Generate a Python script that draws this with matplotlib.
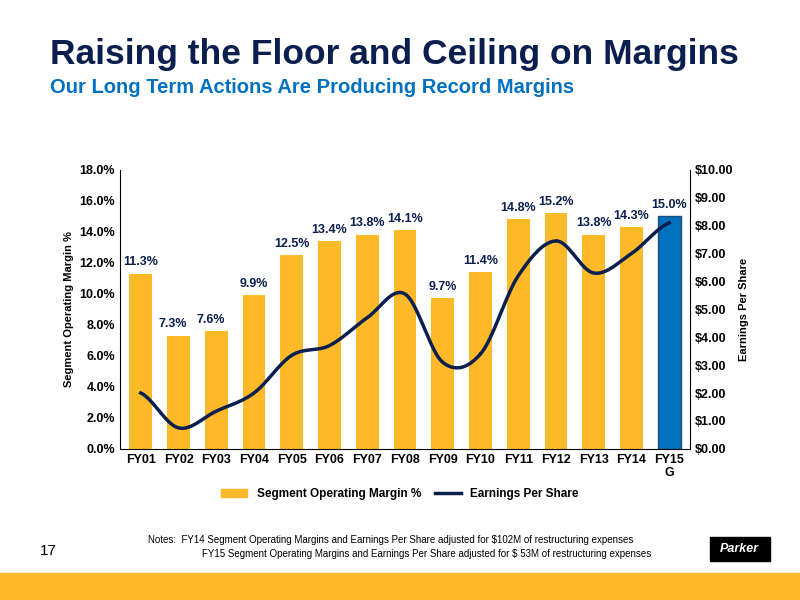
import numpy as np
import matplotlib.pyplot as plt
from matplotlib.patches import Rectangle

plt.rcParams['font.family'] = ['Liberation Sans', 'DejaVu Sans']

years = ['FY01', 'FY02', 'FY03', 'FY04', 'FY05', 'FY06', 'FY07', 'FY08',
         'FY09', 'FY10', 'FY11', 'FY12', 'FY13', 'FY14', 'FY15\nG']
margin = [11.3, 7.3, 7.6, 9.9, 12.5, 13.4, 13.8, 14.1, 9.7, 11.4, 14.8, 15.2, 13.8, 14.3, 15.0]
eps = [2.00, 0.75, 1.35, 2.00, 3.35, 3.70, 4.70, 5.55, 3.10, 3.40, 6.20, 7.45, 6.30, 7.00, 8.10]

gold = '#FDB927'
blue = '#0070C0'
navy = '#0A1F4E'

fig = plt.figure(figsize=(8, 6), dpi=100)
fig.text(0.062, 0.893, 'Raising the Floor and Ceiling on Margins', fontsize=25.5,
         fontweight='bold', color=navy)
fig.text(0.062, 0.845, 'Our Long Term Actions Are Producing Record Margins', fontsize=14.5,
         fontweight='bold', color=blue)

ax = fig.add_axes([0.15, 0.252, 0.7125, 0.465])
x = np.arange(len(years))
colors = [gold] * (len(years) - 1) + [blue]
ax.bar(x, margin, width=0.6, color=colors, edgecolor=['none'] * 14 + ['#1F4E79'])
for i, v in enumerate(margin):
    ax.text(i - 0.15 if i in (1, 2) else i, v + 0.35, f'{v:.1f}%', ha='center', va='bottom',
            fontsize=9, fontweight='bold', color=navy)
ax.set_ylim(0, 18)
ax.set_yticks(np.arange(0, 18.1, 2))
ax.set_yticklabels([f'{t:.1f}%' for t in np.arange(0, 18.1, 2)], fontsize=9, fontweight='bold')
ax.set_xlim(-0.55, len(years) - 0.45)
ax.set_xticks(x)
ax.set_xticklabels(years, fontsize=9, fontweight='bold')
ax.set_ylabel('Segment Operating Margin %', fontsize=8, fontweight='bold')
for s in ['top', 'right']:
    ax.spines[s].set_visible(False)
ax.tick_params(length=0)

ax2 = ax.twinx()
# smooth curve through the points (Catmull-Rom)
p = np.array(eps)
pts = np.concatenate([[p[0]], p, [p[-1]]])
xs, ys = [], []
for i in range(len(p) - 1):
    t = np.linspace(0, 1, 20)
    p0, p1, p2, p3 = pts[i], pts[i + 1], pts[i + 2], pts[i + 3]
    yv = 0.5 * (2 * p1 + (-p0 + p2) * t + (2 * p0 - 5 * p1 + 4 * p2 - p3) * t ** 2
                + (-p0 + 3 * p1 - 3 * p2 + p3) * t ** 3)
    xs.extend(i + t)
    ys.extend(yv)
ax2.plot(xs, ys, color=navy, lw=2.5)
ax2.set_ylim(0, 10)
ax2.set_yticks(np.arange(0, 10.1, 1))
ax2.set_yticklabels([f'${t:.2f}' for t in np.arange(0, 10.1, 1)], fontsize=9, fontweight='bold')
ax2.set_ylabel('Earnings Per Share', fontsize=8, fontweight='bold')
ax2.tick_params(length=0)
for s in ['top', 'left', 'bottom']:
    ax2.spines[s].set_visible(False)

h1 = Rectangle((0, 0), 1, 1, color=gold)
h2 = plt.Line2D([0], [0], color=navy, lw=2.5)
fig.legend([h1, h2], ['Segment Operating Margin %', 'Earnings Per Share'], loc='center',
           bbox_to_anchor=(0.5, 0.177), ncol=2, frameon=False,
           prop={'size': 8.5, 'weight': 'bold'}, handlelength=2.2, columnspacing=1.2)

fig.text(0.185, 0.095, 'Notes:  FY14 Segment Operating Margins and Earnings Per Share adjusted for $102M of restructuring expenses',
         fontsize=7)
fig.text(0.253, 0.072, 'FY15 Segment Operating Margins and Earnings Per Share adjusted for $ 53M of restructuring expenses',
         fontsize=7)
fig.text(0.05, 0.075, '17', fontsize=11)
fig.patches.append(Rectangle((0, 0), 1, 0.045, transform=fig.transFigure, color=gold))
fig.patches.append(Rectangle((0.887, 0.065), 0.075, 0.04, transform=fig.transFigure, color='black'))
fig.text(0.924, 0.085, 'Parker', fontsize=9, fontweight='bold', fontstyle='italic',
         color='white', ha='center', va='center')

fig.savefig('out.png', dpi=100)
